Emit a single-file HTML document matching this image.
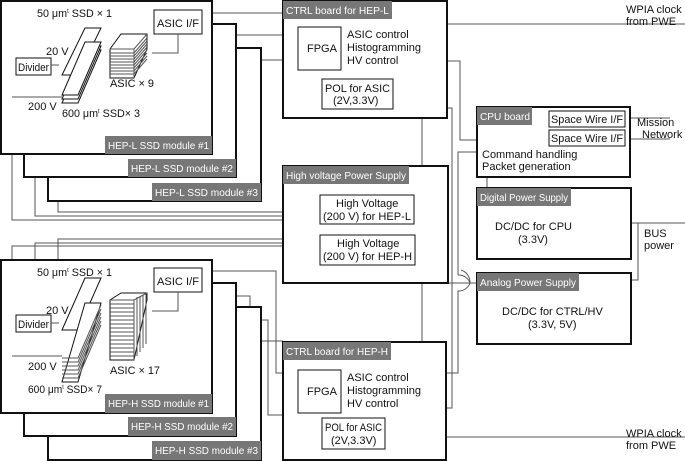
<!DOCTYPE html>
<html><head><meta charset="utf-8"><style>
html,body{margin:0;padding:0;background:#fff;}
svg{display:block;font-family:"Liberation Sans",sans-serif;}
.b{fill:#fff;stroke:#111;stroke-width:2}
.t{fill:#fff;stroke:#111;stroke-width:1}
.l{fill:none;stroke:#555;stroke-width:1}
.g{fill:#777}
.w{fill:#fff;font-size:10px}
text{font-size:11px;fill:#111}
</style></head><body>
<svg width="685" height="461" viewBox="0 0 685 461" xmlns="http://www.w3.org/2000/svg">
<!-- connecting lines HEP-L -->
<path class="l" d="M203,13 H283 M236,35 H283 M261,60 H283"/>
<path class="l" d="M12,63 V220 H320 M35,177 V216 H320 M58,201 V212 H320"/>
<!-- HEP-L modules -->
<rect class="b" x="48" y="48" width="213" height="153"/>
<rect class="g" x="152" y="183" width="109" height="18"/><text class="w" x="155" y="196" textLength="103" lengthAdjust="spacingAndGlyphs">HEP-L SSD module #3</text>
<rect class="b" x="24" y="24" width="212" height="153"/>
<rect class="g" x="128" y="159" width="108" height="18"/><text class="w" x="131" y="172" textLength="102" lengthAdjust="spacingAndGlyphs">HEP-L SSD module #2</text>
<rect class="b" x="1" y="1" width="211" height="153"/>
<rect class="g" x="105" y="136" width="107" height="18"/><text class="w" x="108" y="149" textLength="101" lengthAdjust="spacingAndGlyphs">HEP-L SSD module #1</text>
<text x="37" y="17" textLength="75" lengthAdjust="spacingAndGlyphs">50 μm<tspan font-size="6" dy="-4">t</tspan><tspan dy="4"> SSD × 1</tspan></text>
<text x="46" y="55">20 V</text><text x="28" y="110">200 V</text>
<text x="62" y="117" textLength="78" lengthAdjust="spacingAndGlyphs">600 μm<tspan font-size="6" dy="-4">t</tspan><tspan dy="4"> SSD× 3</tspan></text>
<rect class="t" x="16" y="58" width="35" height="17"/><text x="18" y="71" font-size="10" textLength="31" lengthAdjust="spacingAndGlyphs">Divider</text>
<path class="l" d="M51,65 H59 M12,97 H62"/>
<polygon class="t" points="62,75 85,28 101,28 78,75"/>
<polygon class="t" points="62,103 85,50 101,50 78,103"/>
<polygon class="t" points="62,99 85,46 101,46 78,99"/>
<polygon class="t" points="62,95 85,42 101,42 78,95"/>
<rect class="t" x="154" y="10" width="48" height="24"/><text x="157" y="27" textLength="42" lengthAdjust="spacingAndGlyphs">ASIC I/F</text>
<path class="l" d="M178,34 V53 H152"/>
<text x="110" y="87" textLength="44" lengthAdjust="spacingAndGlyphs">ASIC  × 9</text>
<g>
<polygon class="t" points="110,78 110,49 121,34 147,34 147,49 134,78"/>
<path class="l" stroke="#111" d="M110,49 H134 L147,34 M110,53 H134 L147,38 M110,56 H134 L147,41 M110,59 H134 L147,44 M110,62 H134 L147,47 M110,65 H134 L147,50 M110,68 H134 L147,53 M110,71 H134 L147,56 M110,74 H134 L147,59 M134,49 V78"/>
</g>
<!-- HEP-H lines -->
<path class="l" d="M12,273 V246 H320 M35,283 V243 H320 M58,307 V239 H320"/>
<path class="l" d="M203,271 H276 V373 H283 M236,296 H250 V341 H283 M261,320 H268 V415 H283"/>
<!-- HEP-H modules -->
<rect class="b" x="48" y="307" width="213" height="153"/>
<rect class="g" x="152" y="441" width="109" height="19"/><text class="w" x="155" y="454" textLength="103" lengthAdjust="spacingAndGlyphs">HEP-H SSD module #3</text>
<rect class="b" x="24" y="283" width="212" height="153"/>
<rect class="g" x="128" y="417" width="108" height="19"/><text class="w" x="131" y="430" textLength="102" lengthAdjust="spacingAndGlyphs">HEP-H SSD module #2</text>
<rect class="b" x="1" y="260" width="211" height="153"/>
<rect class="g" x="105" y="394" width="107" height="19"/><text class="w" x="108" y="407" textLength="101" lengthAdjust="spacingAndGlyphs">HEP-H SSD module #1</text>
<text x="37" y="276" textLength="75" lengthAdjust="spacingAndGlyphs">50 μm<tspan font-size="6" dy="-4">t</tspan><tspan dy="4"> SSD × 1</tspan></text>
<text x="46" y="314">20 V</text><text x="28" y="370">200 V</text>
<text x="28" y="393" textLength="74" lengthAdjust="spacingAndGlyphs">600 μm<tspan font-size="6" dy="-4">t</tspan><tspan dy="4"> SSD× 7</tspan></text>
<rect class="t" x="16" y="315" width="35" height="17"/><text x="18" y="328" font-size="10" textLength="31" lengthAdjust="spacingAndGlyphs">Divider</text>
<path class="l" d="M51,323 H59 M12,356 H62"/>
<polygon class="t" points="62,330 85,278 101,278 78,330"/>
<polygon class="t" points="62,382 85,303 101,303 78,382"/>
<path class="l" stroke="#111" d="M62,358 H78 L101,305 M62,362 H78 L101,309 M62,366 H78 L101,313 M62,370 H78 L101,317 M62,374 H78 L101,321 M62,378 H78 L101,325"/>
<rect class="t" x="154" y="268" width="48" height="24"/><text x="157" y="285" textLength="42" lengthAdjust="spacingAndGlyphs">ASIC I/F</text>
<path class="l" d="M178,292 V311 H152"/>
<g>
<polygon class="t" points="110,360 110,300 121,293 147,293 147,300 134,360"/>
<path class="l" stroke="#111" d="M110,300 H134 L147,293 M110,304 H134 M110,308 H134 M110,312 H134 M110,316 H134 M110,320 H134 M110,324 H134 M110,328 H134 M110,332 H134 M110,336 H134 M110,340 H134 M110,344 H134 M110,348 H134 M110,352 H134 M110,356 H134 M134,300 V360 M137,297 V356 M140,296 V352 M143,295 V348 M146,294 V344"/>
</g>
<text x="110" y="374" textLength="50" lengthAdjust="spacingAndGlyphs">ASIC  × 17</text>
<!-- right side lines -->
<path class="l" d="M447,24 H685 M445,437 H685"/>
<path class="l" d="M447,61 H460 V140 H476"/>
<path class="l" d="M447,108 H452 V283 H470"/>
<path class="l" d="M476,152 H458 V275"/>
<path class="l" d="M449,283 H452"/>
<path class="l" d="M461,270 A13,13 0 0 1 470,283"/>
<path class="l" d="M470,283 H476"/>
<path class="l" d="M458,275 A12,12 0 0 1 470,283 A12,12 0 0 1 458,291 V373 H447"/>
<path class="l" d="M452,283 V408 H447"/>
<path class="l" d="M414,210 H422 V118 M415,250 H422 V342"/>
<path class="l" d="M625,118 H670 M625,139 H670 M631,223 H685 M638,223 V280 H631 M487,177 V188"/>
<!-- CTRL L -->
<rect class="b" x="283" y="1" width="164" height="117"/>
<rect class="g" x="283" y="1" width="109" height="18"/><text class="w" x="286" y="14" textLength="103" lengthAdjust="spacingAndGlyphs">CTRL board for HEP-L</text>
<rect class="t" x="298" y="27" width="43" height="43"/><text x="307" y="52">FPGA</text>
<text x="347" y="38">ASIC control</text><text x="347" y="51">Histogramming</text><text x="347" y="64">HV control</text>
<rect class="t" x="322" y="79" width="71" height="30"/><text x="325" y="92" textLength="65" lengthAdjust="spacingAndGlyphs">POL for ASIC</text><text x="333" y="104">(2V,3.3V)</text>
<!-- HV PS -->
<rect class="b" x="283" y="166" width="165" height="117"/>
<rect class="g" x="283" y="166" width="126" height="18"/><text class="w" x="286" y="179" textLength="120" lengthAdjust="spacingAndGlyphs">High voltage Power Supply</text>
<rect class="t" x="320" y="195" width="94" height="29"/><text x="336" y="207">High Voltage</text><text x="323" y="220" textLength="88" lengthAdjust="spacingAndGlyphs">(200 V) for HEP-L</text>
<rect class="t" x="320" y="235" width="95" height="30"/><text x="337" y="247">High Voltage</text><text x="323" y="260" textLength="89" lengthAdjust="spacingAndGlyphs">(200 V) for HEP-H</text>
<!-- CTRL H -->
<rect class="b" x="283" y="342" width="163" height="118"/>
<rect class="g" x="283" y="342" width="108" height="18"/><text class="w" x="286" y="355" textLength="102" lengthAdjust="spacingAndGlyphs">CTRL board for HEP-H</text>
<rect class="t" x="298" y="370" width="43" height="43"/><text x="307" y="395">FPGA</text>
<text x="347" y="381">ASIC control</text><text x="347" y="394">Histogramming</text><text x="347" y="407">HV control</text>
<rect class="t" x="322" y="418" width="63" height="31"/><text x="325" y="431" textLength="57" lengthAdjust="spacingAndGlyphs">POL for ASIC</text><text x="331" y="444">(2V,3.3V)</text>
<!-- CPU -->
<rect class="b" x="477" y="107" width="153" height="70"/>
<rect class="g" x="477" y="107" width="55" height="18"/><text class="w" x="480" y="120" textLength="50" lengthAdjust="spacingAndGlyphs">CPU board</text>
<rect class="t" x="549" y="111" width="76" height="16"/><text x="551" y="123" textLength="72" lengthAdjust="spacingAndGlyphs">Space Wire I/F</text>
<rect class="t" x="549" y="130" width="76" height="16"/><text x="551" y="142" textLength="72" lengthAdjust="spacingAndGlyphs">Space Wire I/F</text>
<text x="482" y="158">Command handling</text><text x="482" y="170">Packet generation</text>
<text x="637" y="126">Mission</text><text x="642" y="138">Network</text>
<!-- Digital PS -->
<rect class="b" x="477" y="188" width="154" height="71"/>
<rect class="g" x="477" y="188" width="94" height="18"/><text class="w" x="480" y="201" textLength="88" lengthAdjust="spacingAndGlyphs">Digital Power Supply</text>
<text x="495" y="230">DC/DC for CPU</text><text x="518" y="243">(3.3V)</text>
<text x="644" y="237">BUS</text><text x="644" y="249">power</text>
<!-- Analog PS -->
<rect class="b" x="477" y="273" width="154" height="71"/>
<rect class="g" x="477" y="273" width="102" height="18"/><text class="w" x="480" y="286" textLength="96" lengthAdjust="spacingAndGlyphs">Analog Power Supply</text>
<text x="502" y="315">DC/DC for CTRL/HV</text><text x="528" y="328">(3.3V, 5V)</text>
<text x="626" y="13">WPIA clock</text><text x="626" y="25">from PWE</text>
<text x="626" y="437">WPIA clock</text><text x="626" y="449">from PWE</text>
</svg>
</body></html>
